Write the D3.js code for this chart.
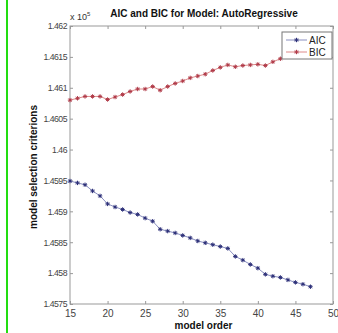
<!DOCTYPE html>
<html><head><meta charset="utf-8">
<script src="https://cdn.jsdelivr.net/npm/d3@7"></script>
<style>body{margin:0;background:#fff}svg{display:block}</style>
</head><body>
<script>
const orders = d3.range(15, 48);
const aicValues = [1.45949,1.45946,1.45943,1.45933,1.45925,1.45912,1.45907,1.45903,1.45898,1.45895,1.45889,1.45884,1.45871,1.45868,1.45865,1.45861,1.45857,1.45852,1.45849,1.45846,1.45843,1.45840,1.45827,1.45821,1.45814,1.45808,1.45798,1.45795,1.45793,1.45789,1.45785,1.45782,1.45778];
const bicValues = [1.46080,1.46083,1.46086,1.46086,1.46086,1.46081,1.46085,1.46089,1.46094,1.46098,1.46098,1.46102,1.46096,1.46102,1.46107,1.46111,1.46116,1.46119,1.46122,1.46128,1.46133,1.46137,1.46134,1.46136,1.46137,1.46138,1.46136,1.46142,1.46147,1.46151,1.46153,1.46156,1.46158];
const xTicks = [15,20,25,30,35,40,45,50];
const yTicks = [1.4575,1.458,1.4585,1.459,1.4595,1.46,1.4605,1.461,1.4615,1.462];
const seriesNames = ["AIC","BIC"];

const W = 338, H = 333;
const L = 70, R = 333, T = 26, B = 304;
const svg = d3.select("body").append("svg").attr("width", W).attr("height", H);
svg.append("rect").attr("x",6).attr("y",0).attr("width",2).attr("height",H).attr("fill","#22dd11");

const x = d3.scaleLinear().domain([15,50]).range([L,R]);
const y = d3.scaleLinear().domain([1.4575,1.462]).range([B,T]);
const font = "Arial, 'Liberation Sans', sans-serif";

svg.append("rect").attr("x",L).attr("y",T).attr("width",R-L).attr("height",B-T)
  .attr("fill","none").attr("stroke","#999").attr("stroke-width",1);

const fmt = d => String(+d.toFixed(4));
const ax = svg.append("g").attr("transform",`translate(0,${B})`)
  .call(d3.axisBottom(x).tickValues(xTicks).tickSizeInner(-3).tickSizeOuter(0).tickPadding(6));
const ax2 = svg.append("g").attr("transform",`translate(0,${T})`)
  .call(d3.axisTop(x).tickValues(xTicks).tickSizeInner(-3).tickSizeOuter(0).tickFormat(""));
const ay = svg.append("g").attr("transform",`translate(${L},0)`)
  .call(d3.axisLeft(y).tickValues(yTicks).tickSizeInner(-3).tickSizeOuter(0).tickPadding(3).tickFormat(fmt));
const ay2 = svg.append("g").attr("transform",`translate(${R},0)`)
  .call(d3.axisRight(y).tickValues(yTicks).tickSizeInner(-3).tickSizeOuter(0).tickFormat(""));
[ax,ax2,ay,ay2].forEach(g=>{
  g.select(".domain").remove();
  g.selectAll("line").attr("stroke","#999");
  g.selectAll("text").attr("font-family",font).attr("font-size",10).attr("fill","#444");
});
ay.selectAll("text").attr("font-size",8.7).attr("letter-spacing",-0.5);

const line = d3.line().x((d,i)=>x(orders[i])).y(d=>y(d));
function star(g, cx, cy, col){
  const s = 2.2;
  g.append("path").attr("d",`M${cx-s},${cy}H${cx+s}M${cx},${cy-s}V${cy+s}M${cx-s*0.7},${cy-s*0.7}L${cx+s*0.7},${cy+s*0.7}M${cx-s*0.7},${cy+s*0.7}L${cx+s*0.7},${cy-s*0.7}`)
    .attr("stroke",col).attr("stroke-width",1).attr("fill","none");
}
const series = [{v:aicValues, lc:"#8a8fc0", mc:"#2c2f78"},{v:bicValues, lc:"#dd8a8a", mc:"#b03a48"}];
series.forEach(s=>{
  svg.append("path").datum(s.v).attr("d",line).attr("fill","none").attr("stroke",s.lc).attr("stroke-width",1);
  const g = svg.append("g");
  s.v.forEach((v,i)=>star(g, x(orders[i]), y(v), s.mc));
});

const lg = svg.append("g");
lg.append("rect").attr("x",282).attr("y",32).attr("width",50).attr("height",27)
  .attr("fill","#fff").attr("stroke","#777").attr("stroke-width",1);
seriesNames.forEach((n,i)=>{
  const yy = 40 + i*12;
  lg.append("line").attr("x1",286).attr("x2",307).attr("y1",yy).attr("y2",yy).attr("stroke",series[i].lc);
  star(lg, 296.5, yy, series[i].mc);
  lg.append("text").attr("x",309).attr("y",yy+3.5).text(n)
    .attr("font-family",font).attr("font-size",10).attr("fill","#222");
});

svg.append("text").attr("x",204).attr("y",17).attr("text-anchor","middle")
  .attr("font-family",font).attr("font-size",10).attr("font-weight","bold").attr("fill","#111")
  .text("AIC and BIC for Model: AutoRegressive");
const ex = svg.append("text").attr("x",70).attr("y",20).attr("font-family",font).attr("font-size",9).attr("fill","#333");
ex.append("tspan").text("x 10");
ex.append("tspan").attr("dy",-4).attr("font-size",6).text("5");
svg.append("text").attr("x",(L+R)/2+2).attr("y",329).attr("text-anchor","middle")
  .attr("font-family",font).attr("font-size",10).attr("font-weight","bold").attr("fill","#111")
  .text("model order");
svg.append("text").attr("transform",`translate(37,${(T+B)/2+2}) rotate(-90)`).attr("text-anchor","middle")
  .attr("font-family",font).attr("font-size",10).attr("font-weight","bold").attr("fill","#111")
  .text("model selection criterions");
</script>
</body></html>
